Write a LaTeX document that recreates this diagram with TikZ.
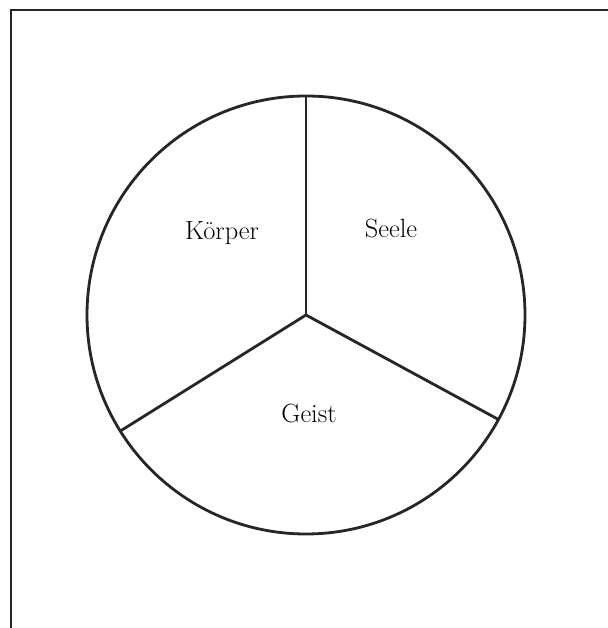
\documentclass[tikz,border=0pt]{standalone}
\usepackage{tikz}
\usetikzlibrary{calc}

\tikzset{
  rim/.style={line width=1.6pt, black!85},
  frameline/.style={line width=1.3pt, black!85},
  part/.style={font=\fontsize{15}{17}\selectfont, text=black}
}

\begin{document}
\begin{tikzpicture}[scale=1.0]
  \useasboundingbox (0,0) rectangle (12.16,12.56);
  % frame (top and left edges)
  \draw[frameline] (0.22,0) -- (0.22,12.36) -- (12.16,12.36);
  % circle
  \coordinate (mid) at (6.12,6.26);
  \draw[rim] (mid) circle (4.38);
  % three sectors
  \coordinate (top) at ($(mid)+(90:4.38)$);
  \coordinate (lowleft) at ($(mid)+(212:4.38)$);
  \coordinate (lowright) at ($(mid)+(331.5:4.38)$);
  \draw[rim] (mid) -- (top);
  \draw[rim] (mid) -- (lowleft);
  \draw[rim] (mid) -- (lowright);
  % labels
  \node[part] (koerper) at (4.44,7.90) {Körper};
  \node[part] (seele) at (7.82,7.98) {Seele};
  \node[part] (geist) at (6.18,4.28) {Geist};
\end{tikzpicture}
\end{document}
